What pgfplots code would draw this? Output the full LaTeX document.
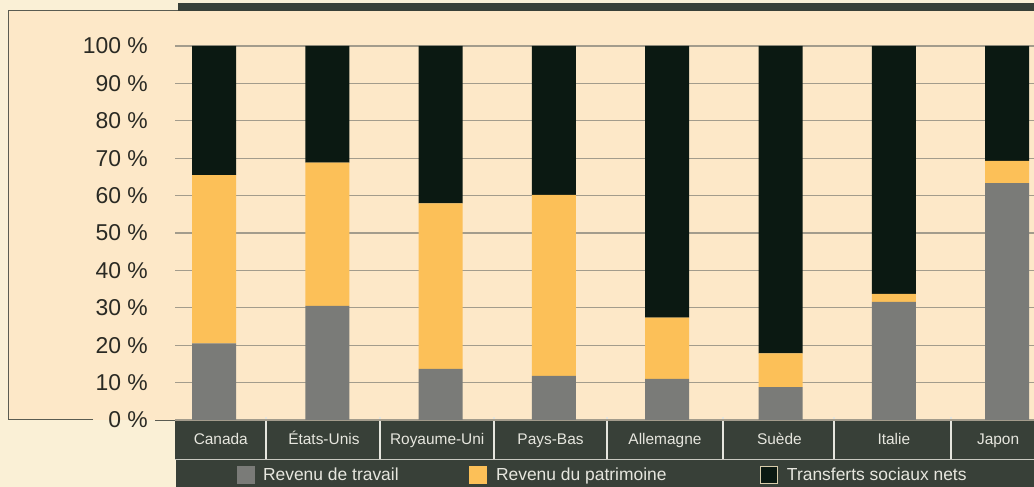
\documentclass[border=0pt]{standalone}
\usepackage{fontspec}
\setmainfont{Liberation Sans}
\usepackage{pgfplots}
\pgfplotsset{compat=1.18}
\definecolor{cream}{HTML}{FAF0D6}
\definecolor{peach}{HTML}{FDE8C8}
\definecolor{darkbox}{HTML}{384038}
\definecolor{barGray}{HTML}{7A7B78}
\definecolor{barOrange}{HTML}{FCC058}
\definecolor{barBlack}{HTML}{0B1912}
\definecolor{gridc}{HTML}{A39C8C}
\definecolor{bordc}{HTML}{5A5C52}
\definecolor{lighttxt}{HTML}{E6E6DE}
\definecolor{sepline}{HTML}{C8C8C0}
\definecolor{ticktxt}{HTML}{2A2A24}
\definecolor{tanborder}{HTML}{D8CCAA}

\pgfplotstableread{
x gray orange black
0 20.5 45.0 34.5
1 30.5 38.3 31.2
2 13.7 44.2 42.1
3 11.8 48.4 39.8
4 11.0 16.4 72.6
5 8.8 9.0 82.2
6 31.6 2.1 66.3
7 63.3 6.0 30.7
}\datatable

\begin{document}
\begin{tikzpicture}[x=1bp,y=1bp]
\path[use as bounding box] (0,0) rectangle (1034,487);
\fill[cream] (0,0) rectangle (1034,487);
\fill[peach] (8,67) rectangle (1034,476);
\draw[bordc, line width=1bp] (93,67) -- (8,67) -- (8,476) -- (178,476);
\fill[darkbox] (178,476) rectangle (1034,484);
\draw[bordc, line width=1.2bp] (155,66.5) -- (175,66.5);
\fill[darkbox] (175,28) rectangle (1034,67);
\fill[darkbox] (176,0) rectangle (1034,27);
\draw[sepline, line width=1.2bp] (175,27.5) -- (1034,27.5);
\foreach \s in {266,380,494,607,723,834,951} \draw[lighttxt, line width=1.2bp] (\s,28) -- (\s,70);

\begin{axis}[
  at={(175bp,67bp)}, anchor=south west,
  scale only axis, width=859bp, height=374bp,
  xmin=-0.3442, xmax=7.237, ymin=0, ymax=100,
  ybar stacked, bar width=44bp,
  axis line style={draw=none},
  major tick length=0pt,
  ymajorgrids, grid style={gridc, line width=1.2bp},
  ytick={0,10,...,100},
  yticklabels={0 \%,10 \%,20 \%,30 \%,40 \%,50 \%,60 \%,70 \%,80 \%,90 \%,100 \%},
  /pgf/number format/assume math mode=true,
  yticklabel style={font=\fontsize{23}{26}\selectfont, text=ticktxt, anchor=east, inner sep=0pt, xshift=-27bp},
  xtick={0.06,0.97,1.97,2.97,3.98,4.99,6.0,6.92},
  xticklabels={Canada,États-Unis,Royaume-Uni,Pays-Bas,Allemagne,Suède,Italie,Japon},
  xticklabel style={font=\fontsize{15.5}{18}\selectfont, text=lighttxt, anchor=base, inner sep=0pt, yshift=-25bp},
  legend columns=3,
  legend style={at={(0.0722,-0.147)}, anchor=west, draw=none, fill=none, inner sep=0pt, outer sep=0pt,
    font=\fontsize{17.5}{20}\selectfont, text=lighttxt},
]
\addplot[fill=barGray, draw=none, legend image code/.code={\fill[barGray] (0bp,-9bp) rectangle (18bp,9bp); \path (20bp,0bp);}] table[x=x, y=gray] {\datatable};
\addlegendentry{\makebox[208bp][l]{\hspace{4bp}Revenu de travail}}
\addplot[fill=barOrange, draw=none, legend image code/.code={\fill[barOrange] (0bp,-9bp) rectangle (18bp,9bp); \path (20bp,0bp);}] table[x=x, y=orange] {\datatable};
\addlegendentry{\makebox[267bp][l]{\hspace{5bp}Revenu du patrimoine}}
\addplot[fill=barBlack, draw=none, legend image code/.code={\filldraw[fill=barBlack, draw=tanborder, line width=1.2bp] (0.6bp,-8.4bp) rectangle (17.4bp,8.4bp); \path (20bp,0bp);}] table[x=x, y=black] {\datatable};
\addlegendentry{\hspace{5bp}Transferts sociaux nets}
\end{axis}
\end{tikzpicture}
\end{document}
